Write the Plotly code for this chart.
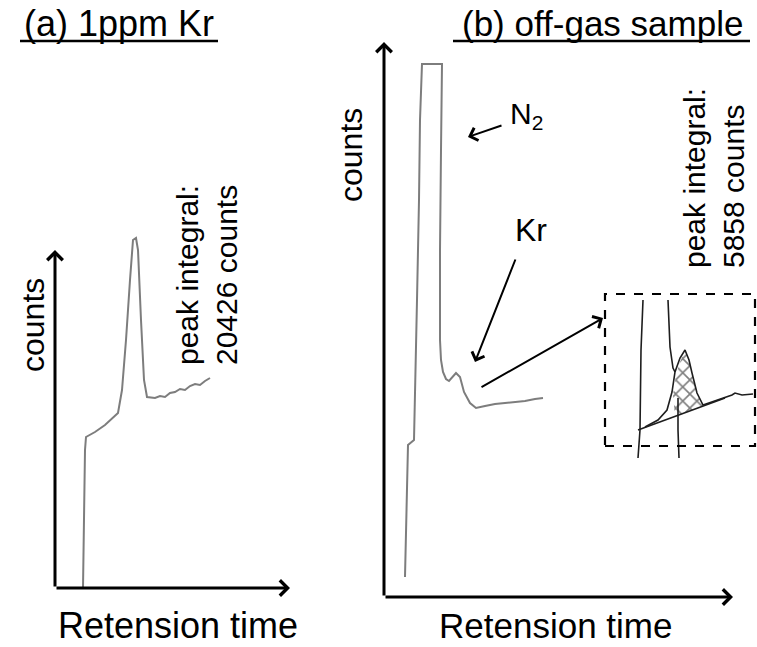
import plotly.graph_objects as go

W, H = 757, 647

# ---------------- data (arbitrary units) ----------------
# Panel (a): 1 ppm Kr
a_time = [28, 29, 30, 31, 40, 50, 63, 67, 71, 75, 78, 81, 83, 86, 89, 92,
          100, 105, 110, 115, 120, 125, 130, 135, 140, 145, 150, 155]
a_counts = [0, 68, 138, 151, 156, 163, 175, 198, 248, 308, 348, 350, 338, 268, 208, 191,
            190, 192, 191, 195, 196, 199, 198, 202, 204, 203, 207, 210]

# Panel (b): off-gas sample (N2 peak saturated, small Kr peak on its tail)
b_time = [21, 23, 24, 30, 31, 33, 35, 36, 38, 58, 57, 56, 56, 57, 59, 62, 65, 68, 72, 76,
          80, 86, 92, 101, 111, 121, 131, 141, 151, 159]
b_counts = [20, 97, 152, 157, 217, 297, 397, 477, 533, 533, 447, 347, 257, 237, 225, 218, 216,
            219, 224, 220, 205, 194, 189, 191, 193, 194, 195, 196, 198, 199]

# Inset: hand-drawn zoom of the Kr peak with integration baseline
ins_lineA_x = [38, 36, 35, 33]
ins_lineA_y = [165, 115, 35, 7]
ins_lineB_x = [63, 65, 68, 70]
ins_lineB_y = [165, 118, 97, 93]
ins_lineC_x = [73, 73, 74]
ins_lineC_y = [67, 35, 7]
ins_peak_x = [40, 53, 62, 67, 70, 75, 80, 84, 87, 92, 98, 107, 117, 127, 130, 137, 148]
ins_peak_y = [38, 45, 55, 73, 93, 107, 115, 105, 92, 72, 60, 63, 67, 70, 72, 70, 71]
ins_base_x = [33, 120]
ins_base_y = [35, 67]
ins_hatch_x = [80, 84, 87, 92, 98, 70, 68, 71, 75, 80]
ins_hatch_y = [115, 105, 92, 72, 59, 49, 70, 90, 103, 115]

# axis extents (where the arrow tips sit, in data units)
a_tmax, a_cmax = 235, 338
b_tmax, b_cmax = 349, 555

# ---------------- layout helpers (pixel -> paper) ----------------
def px(x):
    return x / W

def py(y):
    return 1 - y / H

FONT = "Liberation Sans, Arial, sans-serif"
TRACE = "#7d7d7d"
INK = "#1e1e1e"

fig = go.Figure()

fig.add_trace(go.Scatter(x=a_time, y=a_counts, mode="lines", xaxis="x", yaxis="y",
                         line=dict(color=TRACE, width=2), hoverinfo="skip"))
fig.add_trace(go.Scatter(x=b_time, y=b_counts, mode="lines", xaxis="x2", yaxis="y2",
                         line=dict(color=TRACE, width=2), hoverinfo="skip"))

# inset
fig.add_trace(go.Scatter(x=ins_hatch_x, y=ins_hatch_y, mode="lines", xaxis="x3", yaxis="y3",
                         fill="toself", fillcolor="rgba(0,0,0,0)",
                         fillpattern=dict(shape="x", fgcolor="black", size=10, solidity=0.3),
                         line=dict(width=0), hoverinfo="skip"))
for xs, ys in [(ins_lineA_x, ins_lineA_y), (ins_lineB_x, ins_lineB_y),
               (ins_lineC_x, ins_lineC_y), (ins_peak_x, ins_peak_y),
               (ins_base_x, ins_base_y)]:
    fig.add_trace(go.Scatter(x=xs, y=ys, mode="lines", xaxis="x3", yaxis="y3",
                             line=dict(color=INK, width=1.6), hoverinfo="skip"))

hid = dict(visible=False, fixedrange=True)
fig.update_layout(
    width=W, height=H,
    margin=dict(l=0, r=0, t=0, b=0),
    paper_bgcolor="white", plot_bgcolor="rgba(0,0,0,0)",
    showlegend=False,
    xaxis=dict(domain=[px(55), px(290)], range=[0, 235], **hid),
    yaxis=dict(domain=[py(588), py(228)], range=[0, 360], **hid),
    xaxis2=dict(domain=[px(384), px(733)], range=[0, 349], **hid),
    yaxis2=dict(domain=[py(597), py(42)], range=[0, 555], **hid),
    xaxis3=dict(domain=[px(605), px(756)], range=[0, 151], **hid),
    yaxis3=dict(domain=[py(465), py(295)], range=[0, 170], **hid),
    font=dict(family=FONT, color="black"),
)

ann = []

def arrow(x, y, ax, ay, xr, yr, width, size):
    ann.append(dict(x=x, y=y, ax=ax, ay=ay, xref=xr, yref=yr, axref=xr, ayref=yr,
                    text="", showarrow=True, arrowhead=4, arrowsize=size,
                    arrowwidth=width, arrowcolor="black"))

# axis arrows
arrow(a_tmax, 0, 0, 0, "x", "y", 3, 1)
arrow(0, a_cmax, 0, 0, "x", "y", 3, 1)
arrow(b_tmax, 0, 0, 0, "x2", "y2", 3, 1)
arrow(0, b_cmax, 0, 0, "x2", "y2", 3, 1)
# pointer arrows
arrow(84, 460, 119, 472, "x2", "y2", 2, 1.3)   # N2
arrow(91, 235, 132, 339, "x2", "y2", 2, 1.3)   # Kr
arrow(219, 279, 96, 209, "x2", "y2", 2, 1.3)   # to inset

def text(t, x, y, size, angle=0, xa="center", ya="middle", align="center"):
    ann.append(dict(text=t, x=px(x), y=py(y), xref="paper", yref="paper",
                    showarrow=False, textangle=angle, xanchor=xa, yanchor=ya,
                    align=align, font=dict(size=size, family=FONT, color="black")))

text("(a) 1ppm Kr", 119, 24, 36)
text("(b) off-gas sample", 602, 24, 35)
text("Retension time", 178, 625, 36)
text("Retension time", 555, 625, 35)
text("counts", 33, 325, 32, angle=-90)
text("counts", 351, 155, 32, angle=-90)
text("peak integral:<br>20426 counts", 207, 367, 30, angle=-90, ya="bottom", align="left")
text("peak integral:<br>5858 counts", 714, 270, 30, angle=-90, ya="bottom", align="left")
text("N<sub>2</sub>", 526, 116, 30)
text("Kr", 531, 230, 32)

fig.update_layout(annotations=ann)

shapes = [
    dict(type="line", xref="paper", yref="paper", x0=px(20), x1=px(218), y0=py(41), y1=py(41),
         line=dict(color="black", width=2.5)),
    dict(type="line", xref="paper", yref="paper", x0=px(453), x1=px(750), y0=py(41), y1=py(41),
         line=dict(color="black", width=2.5)),
    dict(type="rect", xref="paper", yref="paper", x0=px(605), x1=px(755), y0=py(446), y1=py(294),
         line=dict(color="black", width=2.2, dash="dash"), fillcolor="rgba(0,0,0,0)"),
]
fig.update_layout(shapes=shapes)

fig.write_html("out.html", config={"displayModeBar": False},
               post_script="document.body.style.margin='0';document.body.style.overflow='hidden';")
